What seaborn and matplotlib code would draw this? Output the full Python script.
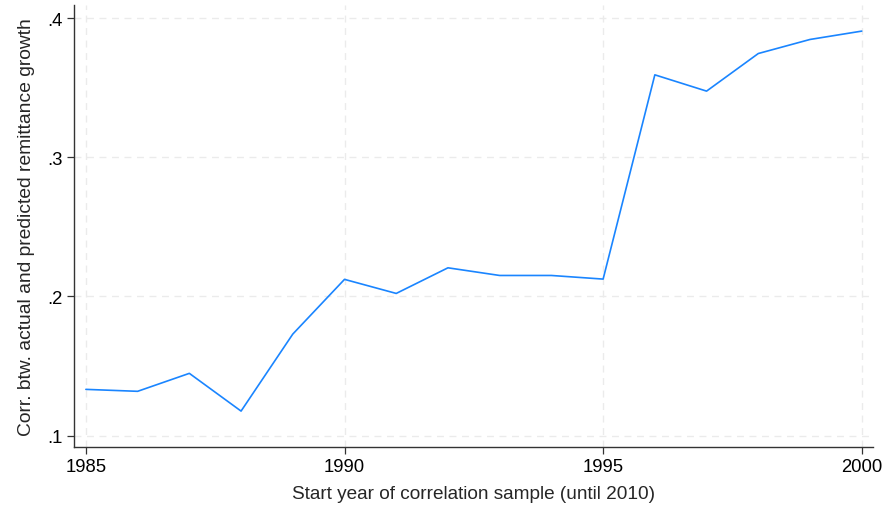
import pandas as pd
import seaborn as sns
import matplotlib.pyplot as plt
from matplotlib.ticker import FuncFormatter

# Start year of the correlation sample and the correlation found
years = [1985, 1986, 1987, 1988, 1989, 1990, 1991, 1992,
         1993, 1994, 1995, 1996, 1997, 1998, 1999, 2000]
corr = [0.1333, 0.1319, 0.1448, 0.1177, 0.1730, 0.2123, 0.2022, 0.2206,
        0.2151, 0.2151, 0.2125, 0.3592, 0.3475, 0.3745, 0.3846, 0.3906]

x_ticks = [1985, 1990, 1995, 2000]
y_ticks = [0.1, 0.2, 0.3, 0.4]

df = pd.DataFrame({"year": years, "corr": corr})

sns.set_theme(style="white")
plt.rcParams['font.family'] = ['Liberation Sans', 'DejaVu Sans']

fig = plt.figure(figsize=(8.83, 5.06), dpi=100)
ax = fig.add_axes([0.0838, 0.1146, 0.905, 0.8734])

sns.lineplot(data=df, x="year", y="corr", color="#1a85ff", linewidth=1.2, ax=ax)

ax.set_xlim(1984.77, 2000.22)
ax.set_ylim(0.0919, 0.4093)
ax.set_xticks(x_ticks)
ax.set_yticks(y_ticks)
ax.yaxis.set_major_formatter(FuncFormatter(lambda v, p: f"{v:.1f}".lstrip("0")))

# Stata-like dashed light grid
ax.grid(True, linestyle=(0, (5, 4)), color="#ebebeb", linewidth=1.0)
ax.set_axisbelow(True)

for side in ["top", "right"]:
    ax.spines[side].set_visible(False)
for side in ["left", "bottom"]:
    ax.spines[side].set_color("#333333")
    ax.spines[side].set_linewidth(1.0)

ax.tick_params(axis="both", which="major", direction="out", length=5, width=0.9,
               color="#333333", labelsize=13.3, labelcolor="black", pad=3,
               bottom=True, left=True)

ax.set_xlabel("Start year of correlation sample (until 2010)", fontsize=13.7, labelpad=7)
ax.set_ylabel("Corr. btw. actual and predicted remittance growth", fontsize=13.9, labelpad=9)

fig.savefig("out.png", dpi=100)
plt.close(fig)
